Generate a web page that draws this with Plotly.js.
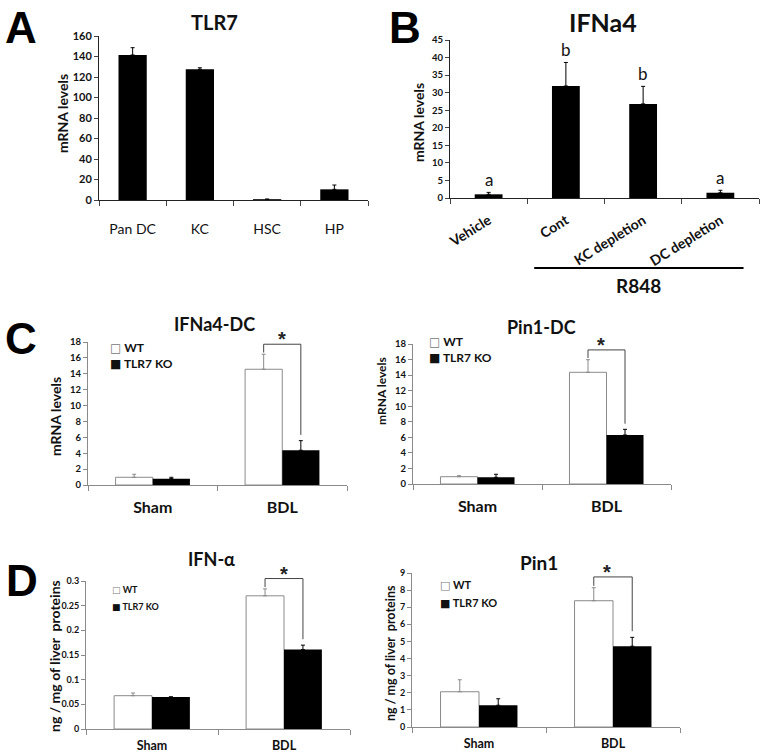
<!DOCTYPE html>
<html><head><meta charset="utf-8">
<script src="https://cdn.plot.ly/plotly-3.0.1.min.js"></script>
<style>html,body{margin:0;padding:0;background:#fff}#chart{width:764px;height:756px}</style>
</head><body><div id="chart"></div>
<script>
// ---------- Data ----------
// Panel A: TLR7
const tlr7Cats = ['Pan DC', 'KC', 'HSC', 'HP'];
const tlr7Vals = [141.5, 127.5, 0.8, 10.4];
const tlr7Err  = [7.1, 1.5, 0, 4.2];
// Panel B: IFNa4
const ifnCats = ['Vehicle', 'Cont', 'KC depletion', 'DC depletion'];
const ifnVals = [1.05, 31.9, 26.8, 1.5];
const ifnErr  = [0.55, 6.7, 5.0, 0.7];
const ifnLetters = ['a', 'b', 'b', 'a'];
// Panels C & D
const groupCats = ['Sham', 'BDL'];
const seriesNames = ['WT', 'TLR7 KO'];
const ifnDcWT = [0.97, 14.57],  ifnDcWTErr = [0.38, 1.89];
const ifnDcKO = [0.80, 4.37],   ifnDcKOErr = [0.17, 1.21];
const pinDcWT = [0.94, 14.36],  pinDcWTErr = [0.13, 1.62];
const pinDcKO = [0.86, 6.30],   pinDcKOErr = [0.39, 0.73];
const ifnPrWT = [0.0675, 0.270], ifnPrWTErr = [0.0055, 0.014];
const ifnPrKO = [0.065, 0.161],  ifnPrKOErr = [0, 0.009];
const pinPrWT = [2.06, 7.38],   pinPrWTErr = [0.70, 0.76];
const pinPrKO = [1.27, 4.72],   pinPrKOErr = [0.38, 0.52];

// ---------- Helpers ----------
const W = 764, H = 756;
const PX = v => v / W, PY = v => 1 - v / H;
const FONT = 'Lato, "Open Sans", sans-serif';
const GRAY = '#8a8a8a';

function xAx(x0, x1, anchor, fontSize, bold, extra) {
  return Object.assign({
    domain: [PX(x0), PX(x1)], anchor: anchor, type: 'category',
    tickson: 'boundaries', ticks: 'outside', ticklen: 5, tickwidth: 1,
    showline: true, linewidth: 1, showgrid: false, zeroline: false,
    tickfont: {family: FONT, size: fontSize, color: '#111', weight: bold ? 'bold' : 'normal'}
  }, extra || {});
}
function yAx(top, bottom, anchor, range, dtick, fontSize, extra) {
  return Object.assign({
    domain: [PY(bottom), PY(top)], anchor: anchor, range: range, dtick: dtick,
    ticks: 'outside', ticklen: 4, tickwidth: 1, showline: true, linewidth: 1,
    showgrid: false, zeroline: false,
    tickfont: {family: FONT, size: fontSize, color: '#111', weight: 'bold'}
  }, extra || {});
}
function errBar(arr, color) {
  return {type: 'data', array: arr, arrayminus: arr.map(() => 0), symmetric: false,
          color: color, thickness: 1, width: 2};
}

const traces = [];
// Panel A
traces.push({type: 'bar', x: tlr7Cats, y: tlr7Vals, width: 0.42, xaxis: 'x', yaxis: 'y',
  marker: {color: '#000', line: {width: 0}}, error_y: errBar(tlr7Err, '#000'), showlegend: false, hoverinfo: 'skip'});
// Panel B
traces.push({type: 'bar', x: ifnCats, y: ifnVals, width: 0.36, xaxis: 'x2', yaxis: 'y2',
  marker: {color: '#000', line: {width: 0}}, error_y: errBar(ifnErr, '#000'), showlegend: false, hoverinfo: 'skip'});

const BW = 0.287; // bar width in category units for grouped panels
const grouped = [
  {xa: 'x3', ya: 'y3', wt: ifnDcWT, wtE: ifnDcWTErr, ko: ifnDcKO, koE: ifnDcKOErr, range: 18,  dom: [88, 347, 342, 485]},
  {xa: 'x4', ya: 'y4', wt: pinDcWT, wtE: pinDcWTErr, ko: pinDcKO, koE: pinDcKOErr, range: 18,  dom: [413, 671, 344, 484]},
  {xa: 'x5', ya: 'y5', wt: ifnPrWT, wtE: ifnPrWTErr, ko: ifnPrKO, koE: ifnPrKOErr, range: 0.3, dom: [86, 350, 581, 729]},
  {xa: 'x6', ya: 'y6', wt: pinPrWT, wtE: pinPrWTErr, ko: pinPrKO, koE: pinPrKOErr, range: 9,   dom: [412, 680, 573, 727]}
];
grouped.forEach(g => {
  traces.push({type: 'bar', name: seriesNames[0], x: groupCats, y: g.wt, width: BW, offset: -BW,
    xaxis: g.xa, yaxis: g.ya, marker: {color: '#fff', line: {color: GRAY, width: 1}},
    error_y: errBar(g.wtE, GRAY), showlegend: false, hoverinfo: 'skip'});
  traces.push({type: 'bar', name: seriesNames[1], x: groupCats, y: g.ko, width: BW, offset: 0,
    xaxis: g.xa, yaxis: g.ya, marker: {color: '#000', line: {width: 0}},
    error_y: errBar(g.koE, '#000'), showlegend: false, hoverinfo: 'skip'});
});

// Significance brackets, mapped from data values to page position (not clipped by the axis range)
const shapes = [];
const annotations = [];
grouped.forEach(g => {
  const [x0, x1, yt, yb] = g.dom;
  const catW = (x1 - x0) / groupCats.length;
  const toX = c => PX(x0 + (c + 0.5) * catW);
  const toY = v => PY(yb - v / g.range * (yb - yt));
  const wtTop = g.wt[1] + g.wtE[1];
  const koTop = g.ko[1] + g.koE[1];
  const top = wtTop + 0.07 * g.range;
  const xl = toX(1 - BW / 2), xr = toX(1 + BW / 2);
  shapes.push({type: 'path', xref: 'paper', yref: 'paper',
    path: `M ${xl},${toY(wtTop + 0.012 * g.range)} L ${xl},${toY(top)} L ${xr},${toY(top)} L ${xr},${toY(koTop + 0.04 * g.range)}`,
    line: {color: '#444', width: 1}});
  annotations.push({xref: 'paper', yref: 'paper', x: toX(1), y: toY(top), text: '*', showarrow: false,
    yanchor: 'bottom', yshift: -8, font: {family: '"Liberation Sans", Arial, sans-serif', size: 20, color: '#222', weight: 'bold'}});
});

// Panel B letters
ifnCats.forEach((c, i) => {
  annotations.push({xref: 'x2', yref: 'y2', x: c, y: ifnVals[i] + ifnErr[i], text: ifnLetters[i],
    showarrow: false, yanchor: 'bottom', yshift: 0, font: {family: FONT, size: 17, color: '#111'}});
});
// R848 bar
shapes.push({type: 'line', xref: 'x2', yref: 'paper', x0: 0.59, x1: 3.3, y0: PY(268), y1: PY(268),
  line: {color: '#000', width: 2}});
annotations.push({xref: 'x2', yref: 'paper', x: 1.945, y: PY(285), text: 'R848', showarrow: false,
  font: {family: FONT, size: 19, color: '#111', weight: 'bold'}});

// Titles
function pAnn(x, y, text, size, extra) {
  annotations.push(Object.assign({xref: 'paper', yref: 'paper', x: PX(x), y: PY(y), text: text,
    showarrow: false, xanchor: 'center', yanchor: 'middle',
    font: {family: FONT, size: size, color: '#111', weight: 'bold'}}, extra || {}));
}
pAnn(214, 22, 'TLR7', 20);
pAnn(603, 22, 'IFNa4', 25);
pAnn(215, 324, 'IFNa4-DC', 18);
pAnn(541, 327, 'Pin1-DC', 18);
pAnn(211, 559, 'IFN-α', 18);
pAnn(539, 562, 'Pin1', 19);
// Panel letters
const LF = {family: '"Liberation Sans", Arial, sans-serif', size: 44, color: '#000', weight: 'bold'};
pAnn(21, 1, 'A', 44, {font: LF, yanchor: 'top'});
pAnn(405, 1, 'B', 44, {font: LF, yanchor: 'top'});
pAnn(21, 338, 'C', 44, {font: LF});
pAnn(22, 580, 'D', 44, {font: LF});
// Y-axis titles
pAnn(62, 114, 'mRNA levels', 14, {textangle: -90});
pAnn(419, 123, 'mRNA levels', 14, {textangle: -90});
pAnn(55, 417, 'mRNA levels', 14, {textangle: -90});
pAnn(381, 391, 'mRNA levels', 12, {textangle: -90});
pAnn(54, 656, 'ng / mg of liver  proteins', 14, {textangle: -90});
pAnn(390, 653, 'ng / mg of liver  proteins', 12.5, {textangle: -90});
// Legends (text)
function legend(x, y1, y2, size) {
  pAnn(x, y1, '<span style="font-family:DejaVu Sans;color:#777">□</span> ' + seriesNames[0], size, {xanchor: 'left'});
  pAnn(x, y2, '<span style="font-family:DejaVu Sans">■</span> ' + seriesNames[1], size, {xanchor: 'left'});
}
legend(108, 348, 364, 12);
legend(427, 342, 357, 12);
legend(110, 589, 606, 9);
legend(438, 585, 603, 11);

const layout = {
  width: W, height: H, margin: {l: 0, r: 0, t: 0, b: 0},
  paper_bgcolor: '#fff', plot_bgcolor: 'rgba(0,0,0,0)', showlegend: false,
  barmode: 'group',
  xaxis:  xAx(99, 368, 'y', 14, false, {linecolor: '#222', ticklabelstandoff: 16}),
  yaxis:  yAx(36, 200, 'x', [0, 160], 20, 11, {linecolor: '#222'}),
  xaxis2: xAx(450, 759, 'y2', 14, true, {linecolor: '#222', tickangle: -32, ticklabelstandoff: 8}),
  yaxis2: yAx(40, 198, 'x2', [0, 45], 5, 9.5, {linecolor: '#222'}),
  xaxis3: xAx(88, 347, 'y3', 16, true, {linecolor: GRAY, tickcolor: GRAY, ticklabelstandoff: 8}),
  yaxis3: yAx(342, 485, 'x3', [0, 18], 2, 9.5, {linecolor: GRAY, tickcolor: GRAY}),
  xaxis4: xAx(413, 671, 'y4', 16, true, {linecolor: GRAY, tickcolor: GRAY, ticklabelstandoff: 8}),
  yaxis4: yAx(344, 484, 'x4', [0, 18], 2, 9.5, {linecolor: GRAY, tickcolor: GRAY}),
  xaxis5: xAx(86, 350, 'y5', 12.5, true, {linecolor: GRAY, tickcolor: GRAY, ticklabelstandoff: 5}),
  yaxis5: yAx(581, 729, 'x5', [0, 0.3], 0.05, 9, {linecolor: GRAY, tickcolor: GRAY}),
  xaxis6: xAx(412, 680, 'y6', 12.5, true, {linecolor: GRAY, tickcolor: GRAY, ticklabelstandoff: 5}),
  yaxis6: yAx(573, 727, 'x6', [0, 9], 1, 9, {linecolor: GRAY, tickcolor: GRAY}),
  shapes: shapes,
  annotations: annotations
};
Plotly.newPlot('chart', traces, layout, {staticPlot: true});
</script></body></html>
